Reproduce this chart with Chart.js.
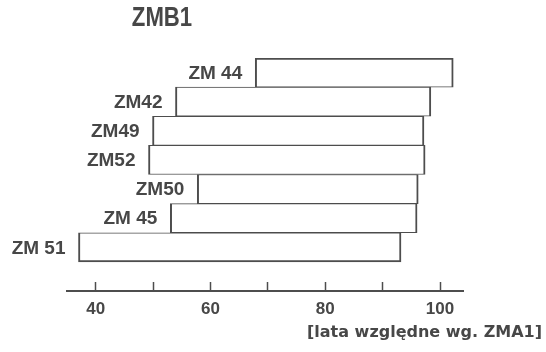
<!DOCTYPE html>
<html>
<head>
<meta charset="utf-8">
<script src="https://cdn.jsdelivr.net/npm/chart.js@4"></script>
<style>
    body { margin: 0; background: #fff; }
</style>
</head>
<body>
<canvas id="zmbChart" width="546" height="352"></canvas>
<script>
const labels = ["ZM 44", "ZM42", "ZM49", "ZM52", "ZM50", "ZM 45", "ZM 51"];
const startVals = [67.8, 53.9, 49.9, 49.2, 57.7, 53.0, 37.0];
const endVals = [102.3, 98.4, 97.2, 97.4, 96.2, 96.0, 93.2];
const tickVals = [40, 50, 60, 70, 80, 90, 100];
const tickLabels = [40, 60, 80, 100];
const chartTitle = "ZMB1";
const axisTitle = "[lata względne wg. ZMA1]";

const ink = "#474747";
const lineInk = "#4d4d4d";

// labels sit just left of each bar, titles are placed by hand
const textPlugin = {
    id: "textPlugin",
    afterDatasetsDraw(chart) {
        let ctx = chart.ctx;
        let meta = chart.getDatasetMeta(0);
        ctx.save();
        ctx.fillStyle = ink;
        ctx.font = "bold 19px 'Liberation Sans'";
        ctx.textAlign = "right";
        ctx.textBaseline = "middle";
        meta.data.forEach((bar, i) => {
            let p = bar.getProps(["x", "y", "base"], true);
            ctx.fillText(labels[i], Math.min(p.x, p.base) - 13, p.y + 1);
        });
        ctx.restore();
    },
    afterDraw(chart) {
        let ctx = chart.ctx;
        ctx.save();
        ctx.fillStyle = ink;
        ctx.textBaseline = "middle";
        ctx.textAlign = "center";
        // title lettering is narrow, squeeze it a bit
        ctx.save();
        ctx.translate(162, 19);
        ctx.scale(0.82, 1);
        ctx.font = "bold 27px 'Liberation Sans'";
        ctx.fillText(chartTitle, 0, 0);
        ctx.restore();
        ctx.textAlign = "right";
        ctx.font = "bold 16px 'DejaVu Sans'";
        ctx.fillText(axisTitle, 542, 333);
        ctx.restore();
    }
};

const ctx = document.getElementById("zmbChart").getContext("2d");

const chart = new Chart(ctx, {
    type: "bar",
    data: {
        labels: labels,
        datasets: [{
            data: labels.map((_, i) => ({ y: i, x: [startVals[i], endVals[i]] })),
            backgroundColor: "#ffffff",
            borderColor: lineInk,
            borderSkipped: false,
            borderWidth: c => ({
                left: 2,
                right: 2,
                top: c.dataIndex === 0 ? 2 : 1,
                bottom: c.dataIndex === labels.length - 1 ? 2 : 1
            }),
            categoryPercentage: 1,
            barPercentage: 1
        }]
    },
    options: {
        indexAxis: "y",
        responsive: false,
        animation: false,
        layout: { padding: { left: 67, right: 83, top: 58, bottom: 14.6 } },
        plugins: {
            legend: { display: false },
            title: { display: false },
            tooltip: { enabled: false }
        },
        scales: {
            y: {
                type: "linear",
                display: false,
                reverse: true,
                bounds: "data",
                offset: false,
                min: -0.5,
                max: 7.5,
                afterBuildTicks: s => { s.ticks = labels.map((_, i) => ({ value: i })); }
            },
            x: {
                type: "linear",
                min: 35,
                max: 104,
                afterBuildTicks: s => { s.ticks = tickVals.map(v => ({ value: v })); },
                ticks: {
                    autoSkip: false,
                    maxRotation: 0,
                    padding: 17.5,
                    color: ink,
                    font: { family: "Liberation Sans", weight: "bold", size: 17 },
                    callback: v => tickLabels.includes(v) ? String(v) : ""
                },
                grid: {
                    drawOnChartArea: false,
                    tickLength: -9,
                    tickWidth: 1.5,
                    tickColor: lineInk
                },
                border: { color: lineInk, width: 2 }
            }
        }
    },
    plugins: [textPlugin]
});
</script>
</body>
</html>
